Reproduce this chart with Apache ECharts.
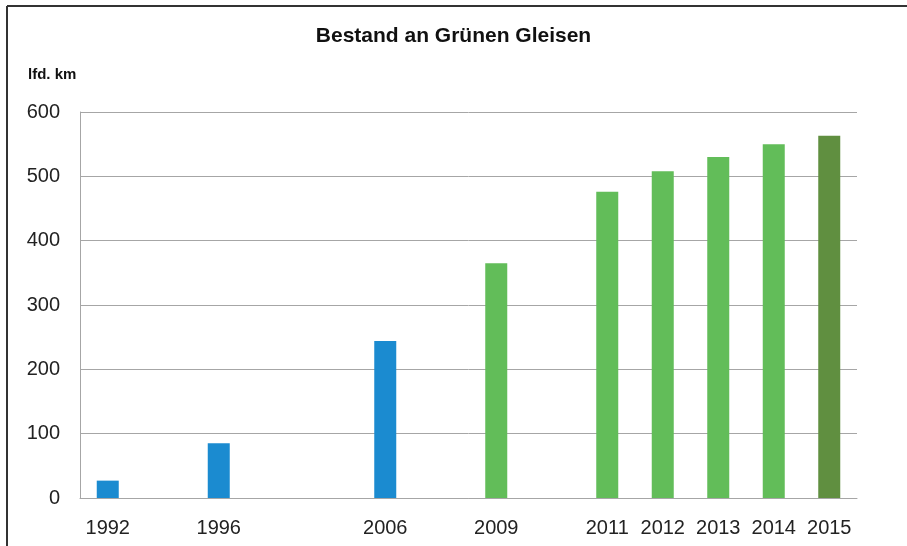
<!DOCTYPE html>
<html>
<head>
<meta charset="utf-8">
<script src="https://cdn.jsdelivr.net/npm/echarts@6/dist/echarts.min.js"></script>
<style>
  html, body { margin: 0; padding: 0; background: #fff; }
  #chart { width: 907px; height: 546px; }
</style>
</head>
<body>
<div id="chart"></div>
<script>
// Jahre (leere Kategorien halten die Abstände wie im Original)
const years = ["1992", "", "1996", "", "", "2006", "", "2009", "", "2011", "2012", "2013", "2014", "2015"];
const values = [27, null, 85, null, null, 244, null, 365, null, 476, 508, 530, 550, 563];
const barColors = ["#1b8bd0", null, "#1b8bd0", null, null, "#1b8bd0", null, "#62bd59", null, "#62bd59", "#62bd59", "#62bd59", "#62bd59", "#608f40"];
const yTicks = [0, 100, 200, 300, 400, 500, 600];

const font = "'Liberation Sans', Arial, sans-serif";

let myChart = echarts.init(document.getElementById("chart"));
myChart.setOption({
  animation: false,
  title: {
    text: "Bestand an Grünen Gleisen",
    left: "center",
    top: 21,
    textStyle: { fontFamily: font, fontSize: 21, fontWeight: "bold", color: "#111" },
  },
  grid: { left: 80, right: 50, top: 112, bottom: 48 },
  xAxis: {
    type: "category",
    data: years,
    axisTick: { show: false },
    axisLine: { lineStyle: { color: "#a6a6a6", width: 1 } },
    axisLabel: { interval: 0, margin: 20, color: "#222", fontFamily: font, fontSize: 20 },
  },
  yAxis: {
    type: "value",
    min: yTicks[0],
    max: yTicks[yTicks.length - 1],
    interval: 100,
    name: "lfd. km",
    nameLocation: "end",
    nameGap: 30,
    nameTextStyle: { fontFamily: font, fontSize: 15, fontWeight: "bold", color: "#111", align: "left", padding: [0, 0, 0, -52] },
    axisLine: { show: true, lineStyle: { color: "#a6a6a6", width: 1 } },
    axisTick: { show: false },
    axisLabel: { margin: 20, color: "#222", fontFamily: font, fontSize: 20 },
    //网格线
    splitLine: { lineStyle: { color: "#a6a6a6", width: 1 } },
  },
  series: [
    {
      type: "bar",
      barWidth: 22,
      data: values.map((v, i) => ({ value: v, itemStyle: { color: barColors[i] } })),
    },
  ],
  graphic: [
    { type: "line", shape: { x1: 7, y1: 6, x2: 907, y2: 6 }, style: { stroke: "#333", lineWidth: 2 } },
    { type: "line", shape: { x1: 7, y1: 6, x2: 7, y2: 546 }, style: { stroke: "#333", lineWidth: 2 } },
  ],
});

window.addEventListener("resize", () => {
  myChart.resize();
});
</script>
</body>
</html>
